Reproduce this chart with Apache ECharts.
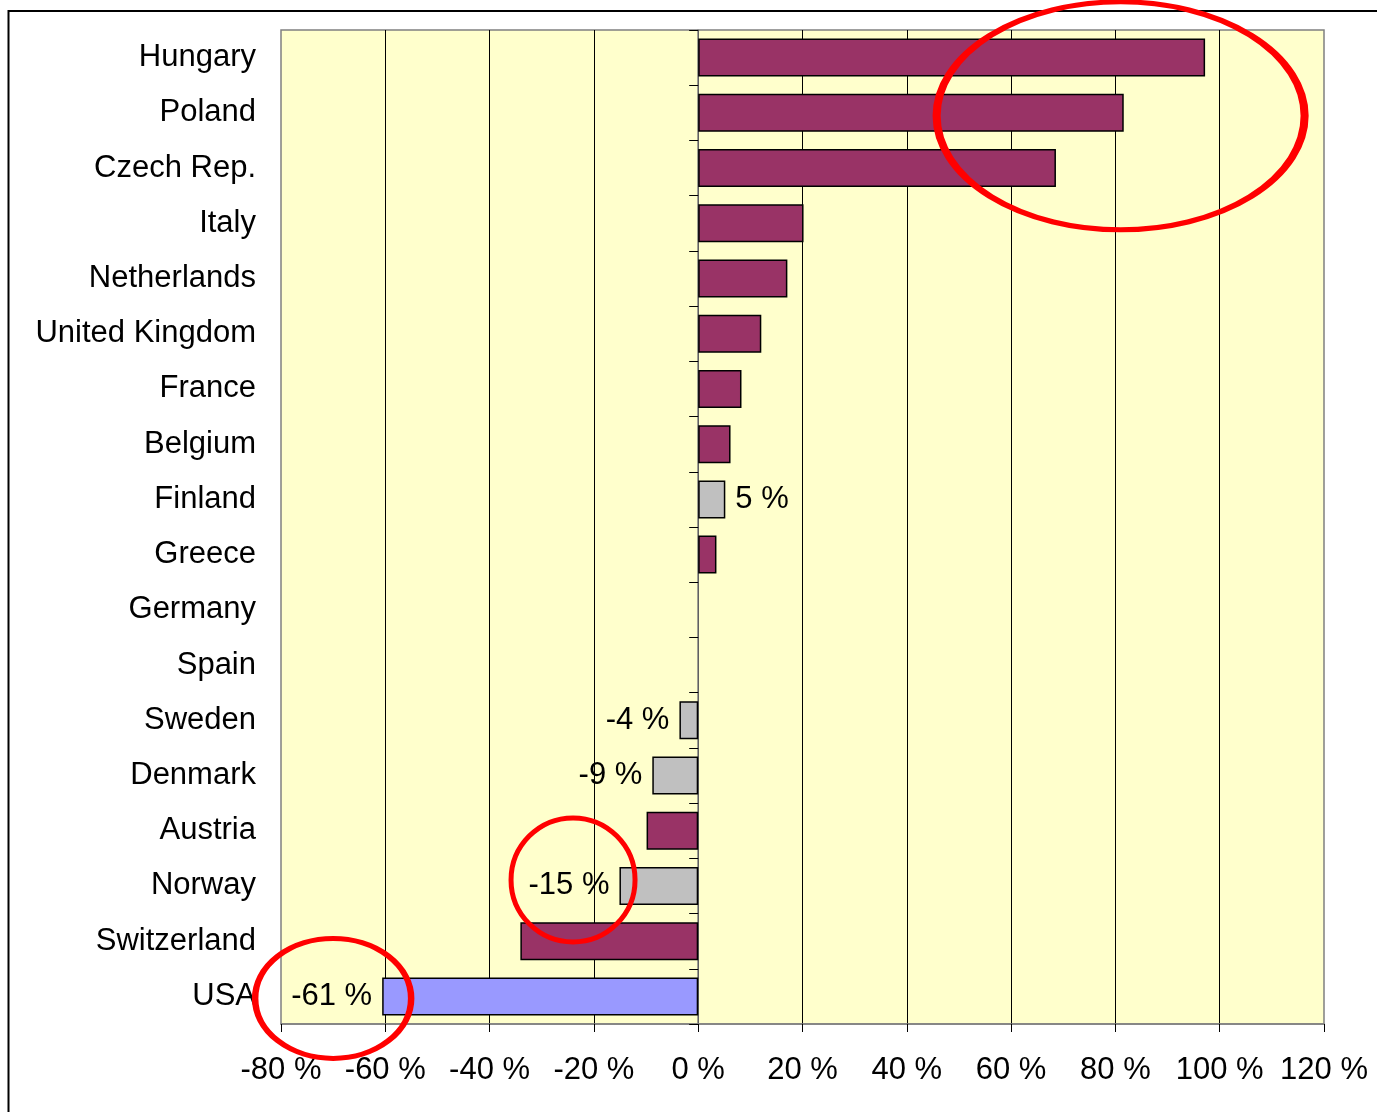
<!DOCTYPE html>
<html>
<head>
<meta charset="utf-8">
<title>Change by country</title>
<script src="https://cdn.jsdelivr.net/npm/echarts@6/dist/echarts.min.js"></script>
<style>
    html, body { margin: 0; padding: 0; background: #fff; }
    #ChartDIV { width: 1377px; height: 1112px; }
</style>
</head>
<body>
<div id="ChartDIV"></div>
<script>
// -- data
var countries = ['Hungary', 'Poland', 'Czech Rep.', 'Italy', 'Netherlands', 'United Kingdom', 'France', 'Belgium',
    'Finland', 'Greece', 'Germany', 'Spain', 'Sweden', 'Denmark', 'Austria', 'Norway', 'Switzerland', 'USA'];
var changes = [97.2, 81.6, 68.6, 20.2, 17.1, 12.1, 8.3, 6.2, 5.2, 3.5, 0, 0, -3.6, -8.8, -9.9, -15.1, -34.1, -60.6];
// eu = plain bar, nordic = labelled grey bar, usa = labelled blue bar
var groups = ['eu', 'eu', 'eu', 'eu', 'eu', 'eu', 'eu', 'eu', 'nordic', 'eu', 'eu', 'eu',
    'nordic', 'nordic', 'eu', 'nordic', 'eu', 'usa'];
var tickValues = [-80, -60, -40, -20, 0, 20, 40, 60, 80, 100, 120];

// -- red rings drawn over the chart (x value, category)
var ringX = [81, -24, -70];
var ringCat = ['Poland', 'Norway', 'USA'];

var groupColor = { eu: '#993366', nordic: '#c0c0c0', usa: '#9999ff' };
var ringSize = [[184, 114], [62, 62], [78, 60]];
var ringDy = [3, -6, 2];
var fontFamily = "'Liberation Sans', Arial, sans-serif";

var myChart = echarts.init(document.getElementById('ChartDIV'));

var option = {
    animation: false,
    backgroundColor: '#ffffff',
    textStyle: { fontFamily: fontFamily },
    grid: {
        left: 281,
        right: 53,
        top: 30,
        bottom: 88,
        show: true,
        backgroundColor: '#ffffcc',
        borderColor: '#808080',
        borderWidth: 1.5
    },
    xAxis: {
        type: 'value',
        min: tickValues[0],
        max: tickValues[tickValues.length - 1],
        interval: 20,
        axisLine: { show: true, lineStyle: { color: '#808080', width: 1.5 } },
        axisTick: { show: true, length: 8, lineStyle: { color: '#000' } },
        axisLabel: {
            formatter: '{value} %',
            fontSize: 31,
            color: '#000',
            margin: 31,
            fontFamily: fontFamily
        },
        splitLine: {
            show: true,
            showMinLine: false,
            showMaxLine: false,
            lineStyle: { color: '#000', width: 1 }
        }
    },
    yAxis: [
        {
            type: 'category',
            inverse: true,
            data: countries,
            axisLine: { show: false, onZero: false },
            axisTick: { show: false },
            axisLabel: {
                fontSize: 31,
                color: '#000',
                margin: 25,
                fontFamily: fontFamily
            }
        },
        {
            type: 'category',
            inverse: true,
            position: 'left',
            data: countries,
            axisLine: { show: true, onZero: true, lineStyle: { color: '#808080', width: 1.5 } },
            axisTick: { show: true, length: 9, lineStyle: { color: '#000' } },
            axisLabel: { show: false }
        }
    ],
    series: [
        {
            type: 'bar',
            yAxisIndex: 0,
            barWidth: 38,
            data: (function () {
                var res = [];
                for (var i = 0; i < changes.length; i++) {
                    res.push({
                        value: changes[i],
                        itemStyle: {
                            color: groupColor[groups[i]],
                            borderColor: '#000',
                            borderWidth: changes[i] === 0 ? 0 : 1.5
                        },
                        label: {
                            show: groups[i] !== 'eu',
                            position: changes[i] < 0 ? 'left' : 'right'
                        }
                    });
                }
                return res;
            })(),
            label: {
                distance: 10,
                fontSize: 31,
                color: '#000',
                fontFamily: fontFamily,
                formatter: function (params) {
                    return Math.round(params.value) + ' %';
                }
            }
        }
    ]
};

myChart.setOption(option);

//-- rings and outer frame
var graphics = [{
    type: 'rect',
    silent: true,
    shape: { x: 8.5, y: 11, width: 1500, height: 1500 },
    style: { fill: 'none', stroke: '#000', lineWidth: 2 },
    z: 100
}];
for (var k = 0; k < ringX.length; k++) {
    var pt = myChart.convertToPixel({ gridIndex: 0 }, [ringX[k], ringCat[k]]);
    graphics.push({
        type: 'circle',
        silent: true,
        x: pt[0],
        y: pt[1] + ringDy[k],
        scaleX: ringSize[k][0] / ringSize[k][1],
        scaleY: 1,
        shape: { cx: 0, cy: 0, r: ringSize[k][1] },
        style: { fill: 'none', stroke: '#ff0000', lineWidth: 5, strokeNoScale: true },
        z: 100
    });
}
myChart.setOption({ graphic: graphics });

window.addEventListener('resize', function () {
    myChart.resize();
})
</script>
</body>
</html>
